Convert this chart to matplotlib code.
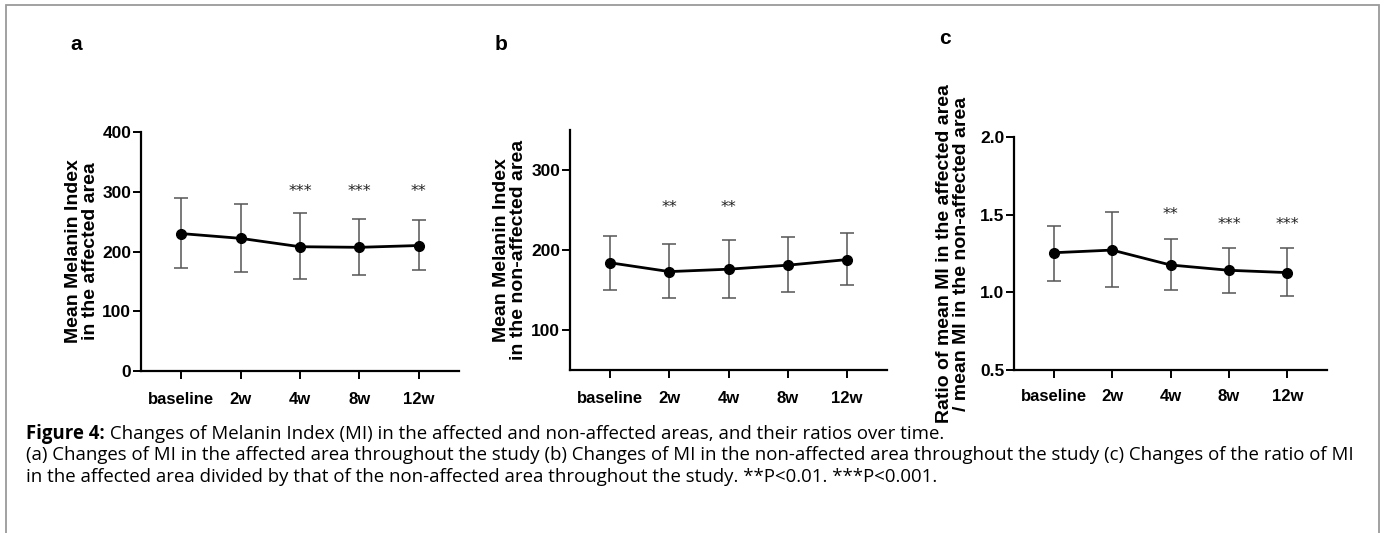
import matplotlib
matplotlib.use("Agg")
import matplotlib.pyplot as plt
from matplotlib.patches import Rectangle

W, H = 1385, 533
DPI = 100

# ---------------- data ----------------
timepoints = ["baseline", "2w", "4w", "8w", "12w"]

a_mean = [230, 222, 208, 207, 210]
a_upper = [289, 280, 264, 254, 252]
a_lower = [172, 165, 154, 160, 169]
a_stars = ["", "", "***", "***", "**"]
a_star_y = [300, 300, 300, 300, 300]

b_mean = [184, 173, 176, 181, 188]
b_upper = [218, 207, 212, 216, 221]
b_lower = [150, 140, 140, 148, 156]
b_stars = ["", "**", "**", "", ""]
b_star_y = [253, 253, 253, 253, 253]

c_mean = [1.255, 1.272, 1.176, 1.142, 1.127]
c_upper = [1.429, 1.517, 1.343, 1.288, 1.284]
c_lower = [1.075, 1.032, 1.015, 0.996, 0.976]
c_stars = ["", "", "**", "***", "***"]
c_star_y = [1.50, 1.50, 1.50, 1.434, 1.434]

a_yticks = [0, 100, 200, 300, 400]
b_yticks = [100, 200, 300]
c_yticks = [0.5, 1.0, 1.5, 2.0]
c_yticklabels = ["0.5", "1.0", "1.5", "2.0"]

a_ylabel = "Mean Melanin Index\nin the affected area"
b_ylabel = "Mean Melanin Index\nin the non-affected area"
c_ylabel = "Ratio of mean MI in the affected area\n/ mean MI in the non-affected area"

caption_bold = "Figure 4:"
caption_l1 = " Changes of Melanin Index (MI) in the affected and non-affected areas, and their ratios over time."
caption_l2 = ("(a) Changes of MI in the affected area throughout the study (b) Changes of MI in the "
              "non-affected area throughout the study (c) Changes of the ratio of MI")
caption_l3 = "in the affected area divided by that of the non-affected area throughout the study. **P<0.01. ***P<0.001."

# ---------------- figure ----------------
fig = plt.figure(figsize=(W / DPI, H / DPI), dpi=DPI)
fig.patch.set_facecolor("white")

def px_axes(left, right, top, bottom):
    return [left / W, 1 - bottom / H, (right - left) / W, (bottom - top) / H]

panels = [
    dict(rect=px_axes(141, 459, 132, 371), mean=a_mean, up=a_upper, lo=a_lower,
         stars=a_stars, sy=a_star_y, ylim=(0, 400), yt=a_yticks, ytl=[str(v) for v in a_yticks],
         ylabel=a_ylabel, lx=-0.186, letter="a", letter_xy=(76, 44), xpad=9.5),
    dict(rect=px_axes(570, 887, 130, 370), mean=b_mean, up=b_upper, lo=b_lower,
         stars=b_stars, sy=b_star_y, ylim=(50, 350), yt=b_yticks, ytl=[str(v) for v in b_yticks],
         ylabel=b_ylabel, lx=-0.188, letter="b", letter_xy=(501, 44), xpad=9.5),
    dict(rect=px_axes(1014, 1327, 137, 370), mean=c_mean, up=c_upper, lo=c_lower,
         stars=c_stars, sy=c_star_y, ylim=(0.5, 2.0), yt=c_yticks, ytl=c_yticklabels,
         ylabel=c_ylabel, lx=-0.195, letter="c", letter_xy=(945, 38), xpad=8),
]

FONT = "Liberation Sans"
x = list(range(len(timepoints)))

for p in panels:
    ax = fig.add_axes(p["rect"])
    yerr_lo = [m - l for m, l in zip(p["mean"], p["lo"])]
    yerr_up = [u - m for m, u in zip(p["mean"], p["up"])]
    ax.errorbar(x, p["mean"], yerr=[yerr_lo, yerr_up], fmt="none", ecolor="#555555",
                elinewidth=1.1, capsize=5, capthick=1.1, zorder=2)
    ax.plot(x, p["mean"], color="black", lw=2.0, marker="o", markersize=7,
            markerfacecolor="black", zorder=3)
    for xi, s, sy in zip(x, p["stars"], p["sy"]):
        if s:
            ax.text(xi, sy, s, ha="center", va="center", fontsize=11.5,
                    family="DejaVu Sans", color="#222222")
    ax.set_xlim(-0.68, 4.68)
    ax.set_ylim(*p["ylim"])
    ax.set_xticks(x)
    ax.set_xticklabels(timepoints, fontsize=12, fontweight="bold", family=FONT)
    ax.set_yticks(p["yt"])
    ax.set_yticklabels(p["ytl"], fontsize=12.5, fontweight="bold", family=FONT)
    for sp in ["top", "right"]:
        ax.spines[sp].set_visible(False)
    for sp in ["left", "bottom"]:
        ax.spines[sp].set_linewidth(1.6)
    ax.tick_params(axis="both", width=1.4, length=5.5, color="black")
    ax.tick_params(axis="x", pad=p["xpad"])
    ax.tick_params(axis="y", pad=1.5)
    ax.set_ylabel(p["ylabel"], fontsize=14, fontweight="bold", family=FONT,
                  linespacing=1.0, va="center", ha="center")
    ax.yaxis.set_label_coords(p["lx"], 0.5)
    lx, ly = p["letter_xy"]
    fig.text(lx / W, 1 - ly / H, p["letter"], ha="center", va="center",
             fontsize=15, fontweight="bold", family=FONT)

# caption
CFONT = "Open Sans"
CSIZE = 13.4
y1, y2, y3 = 434, 455.5, 477
t = fig.text(26 / W, 1 - y1 / H, caption_bold, ha="left", va="center",
             fontsize=CSIZE, fontweight="bold", family=CFONT)
fig.canvas.draw()
bb = t.get_window_extent()
fig.text(bb.x1 / W, 1 - y1 / H, caption_l1, ha="left", va="center",
         fontsize=CSIZE, family=CFONT)
fig.text(26 / W, 1 - y2 / H, caption_l2, ha="left", va="center",
         fontsize=CSIZE, family=CFONT)
fig.text(26 / W, 1 - y3 / H, caption_l3, ha="left", va="center",
         fontsize=CSIZE, family=CFONT)

# outer frame
fig.add_artist(Rectangle((6 / W, -0.05), (1379 - 6) / W, 1.05 - 5 / H,
                         transform=fig.transFigure, fill=False,
                         edgecolor="#9a9a9a", lw=1.3))

fig.savefig("out.png", dpi=DPI)
